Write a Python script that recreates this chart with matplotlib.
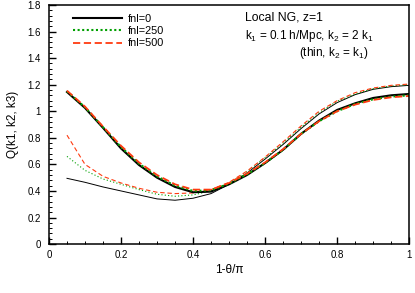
import numpy as np
import matplotlib
matplotlib.use("Agg")
import matplotlib.pyplot as plt
from matplotlib.ticker import MultipleLocator

plt.rcParams['font.family'] = ['Liberation Sans', 'DejaVu Sans']
plt.rcParams['mathtext.fontset'] = 'custom'
plt.rcParams['mathtext.rm'] = 'Liberation Sans'

# 1 - theta/pi
x = [0.05, 0.10, 0.15, 0.20, 0.25, 0.30, 0.35, 0.40, 0.45, 0.50,
     0.55, 0.60, 0.65, 0.70, 0.75, 0.80, 0.85, 0.90, 0.95, 1.00]

# k2 = 2 k1 (thick)
thick_fnl0 = [1.145, 1.025, 0.875, 0.72, 0.595, 0.50, 0.43, 0.39, 0.395, 0.45,
              0.52, 0.61, 0.71, 0.83, 0.93, 1.01, 1.06, 1.10, 1.12, 1.13]
thick_fnl250 = [1.15, 1.03, 0.88, 0.73, 0.605, 0.51, 0.44, 0.40, 0.405, 0.455,
                0.525, 0.61, 0.71, 0.83, 0.925, 1.0, 1.055, 1.09, 1.11, 1.12]
thick_fnl500 = [1.155, 1.035, 0.885, 0.74, 0.615, 0.52, 0.45, 0.41, 0.41, 0.46,
                0.53, 0.615, 0.715, 0.83, 0.925, 1.0, 1.05, 1.085, 1.105, 1.115]

# k2 = k1 (thin)
thin_fnl0 = [0.495, 0.465, 0.43, 0.40, 0.37, 0.34, 0.33, 0.345, 0.38, 0.45,
             0.535, 0.64, 0.75, 0.87, 0.98, 1.065, 1.125, 1.165, 1.185, 1.195]
thin_fnl250 = [0.66, 0.555, 0.49, 0.45, 0.41, 0.375, 0.36, 0.37, 0.40, 0.46,
               0.545, 0.65, 0.76, 0.88, 0.99, 1.075, 1.13, 1.17, 1.19, 1.20]
thin_fnl500 = [0.82, 0.60, 0.51, 0.46, 0.42, 0.39, 0.38, 0.385, 0.41, 0.465,
               0.55, 0.655, 0.77, 0.89, 1.0, 1.08, 1.14, 1.175, 1.195, 1.205]

black, green, red = 'black', '#00a000', '#ff3a10'

fig = plt.figure(figsize=(4.15, 2.93), dpi=100)
ax = fig.add_axes([0.118, 0.167, 0.868, 0.816])

ax.plot(x, thin_fnl0, color=black, lw=0.7)
ax.plot(x, thin_fnl250, color=green, lw=0.8, ls=(0, (1, 2)))
ax.plot(x, thin_fnl500, color=red, lw=0.8, ls=(0, (4, 2.5)))

ax.plot(x, thick_fnl0, color=black, lw=1.5, label='fnl=0')
ax.plot(x, thick_fnl250, color=green, lw=1.5, ls=(0, (1, 1.2)), label='fnl=250')
ax.plot(x, thick_fnl500, color=red, lw=1.3, ls=(0, (4, 2)), label='fnl=500')

ax.set_xlim(0, 1)
ax.set_ylim(0, 1.8)
ax.xaxis.set_minor_locator(MultipleLocator(0.05))
ax.yaxis.set_minor_locator(MultipleLocator(0.04))
ax.set_xticks([0, 0.2, 0.4, 0.6, 0.8, 1])
ax.set_xticklabels(['0', '0.2', '0.4', '0.6', '0.8', '1'])
ax.set_yticks([0, 0.2, 0.4, 0.6, 0.8, 1, 1.2, 1.4, 1.6, 1.8])
ax.set_yticklabels(['0', '0.2', '0.4', '0.6', '0.8', '1', '1.2', '1.4', '1.6', '1.8'])
ax.tick_params(which='major', direction='in', length=5, width=1, labelsize=7,
               top=False, right=False)
ax.tick_params(axis='x', which='major', pad=4)
ax.tick_params(axis='y', which='major', pad=6)
ax.tick_params(which='minor', direction='in', length=2.5, width=0.7,
               top=False, right=False)
for s in ax.spines.values():
    s.set_linewidth(1.1)

ax.set_xlabel('1-θ/π', fontsize=8.5, labelpad=3)
ax.set_ylabel('Q(k1, k2, k3)', fontsize=8.5, labelpad=6)

ax.legend(loc='upper left', bbox_to_anchor=(0.055, 0.98), borderaxespad=0,
          frameon=False, fontsize=7.8, handlelength=4.5, handletextpad=0.55,
          labelspacing=0.2)

ax.text(0.544, 0.946, 'Local NG, z=1', transform=ax.transAxes, fontsize=8.8, va='center')
ax.text(0.544, 0.872, r'k$_1$ = 0.1 h/Mpc, k$_2$ = 2 k$_1$', transform=ax.transAxes,
        fontsize=8.5, va='center')
ax.text(0.694, 0.798, r'(thin, k$_2$ = k$_1$)', transform=ax.transAxes,
        fontsize=8.5, va='center')

fig.savefig('out.png', dpi=100)
